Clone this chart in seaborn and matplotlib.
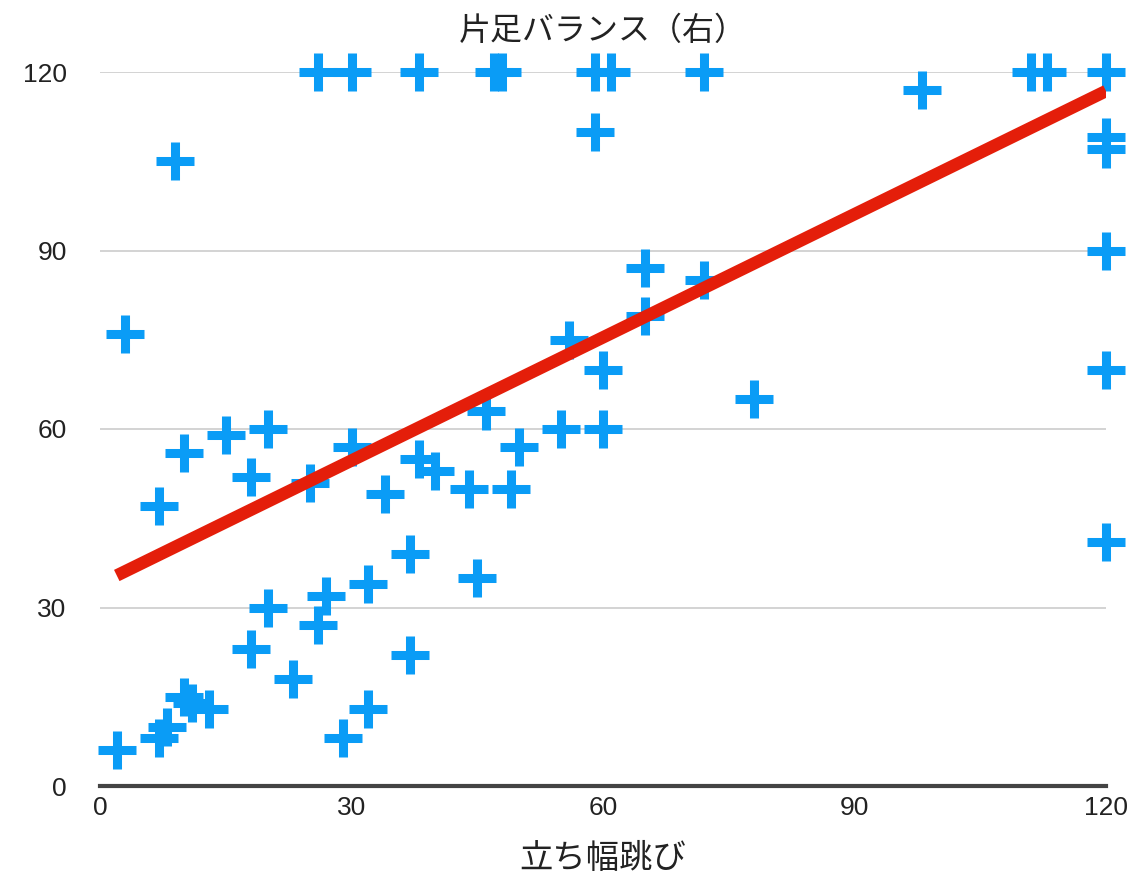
import matplotlib
matplotlib.use("Agg")
import matplotlib.pyplot as plt
import matplotlib.patheffects as pe
import seaborn as sns
import pandas as pd

# ---- data ----
title = "片足バランス（右）"
xlabel = "立ち幅跳び"
ticks = [0, 30, 60, 90, 120]

jump = [26, 30, 38, 47, 48, 59, 61, 72, 111, 113, 120,
        98, 59, 9, 120, 120, 120, 120, 120,
        65, 72, 65, 56, 60, 78, 3, 55, 60, 46, 50,
        49, 44, 45, 30, 38, 40, 34, 25, 18, 15, 20, 10, 7,
        37, 27, 32, 20, 26, 18, 37, 23, 29, 32, 10, 11, 13, 7, 8, 2]
balance = [120, 120, 120, 120, 120, 120, 120, 120, 120, 120, 120,
           117, 110, 105, 109, 107, 90, 70, 41,
           87, 85, 79, 75, 70, 65, 76, 60, 60, 63, 57,
           50, 50, 35, 57, 55, 53, 49, 51, 52, 59, 60, 56, 47,
           39, 32, 34, 30, 27, 23, 22, 18, 8, 13, 15, 14, 13, 8, 10, 6]

# trend line shown in the reference (intercept, slope)
trend_intercept = 34.0
trend_slope = 0.69

df = pd.DataFrame({"jump": jump, "balance": balance})
x_ends = [min(jump), max(jump)]
trend = pd.DataFrame({"jump": x_ends,
                      "balance": [trend_intercept + trend_slope * v for v in x_ends]})

sns.set_theme(style="white")
plt.rcParams["font.family"] = ["Noto Sans CJK JP", "DejaVu Sans"]

fig = plt.figure(figsize=(11.38, 8.82), dpi=100)
ax = fig.add_axes([100 / 1138, 1 - 786 / 882, 1006 / 1138, 714 / 882])

blue = "#0A9CF6"
red = "#E41E0A"

sns.scatterplot(data=df, x="jump", y="balance", ax=ax, marker="+", s=740,
                linewidth=6.5, color=blue, clip_on=False, zorder=3)
sns.lineplot(data=trend, x="jump", y="balance", ax=ax, color=red, lw=9,
             solid_capstyle="butt", zorder=4,
             path_effects=[pe.SimplePatchShadow(offset=(1.5, -1.5), alpha=0.25),
                           pe.Normal()])

ax.set_xlim(0, 120)
ax.set_ylim(0, 120)
ax.set_xticks(ticks)
ax.set_yticks(ticks)
ax.set_xticklabels([str(t) for t in ticks], family="Liberation Sans", fontsize=19, color="#222222")
ax.set_yticklabels([str(t) for t in ticks], family="Liberation Sans", fontsize=19, color="#222222")
ax.tick_params(axis="both", length=0)
ax.tick_params(axis="y", pad=24)
ax.tick_params(axis="x", pad=7)

ax.grid(axis="y", color="#cccccc", lw=1.2, zorder=0)
ax.grid(axis="x", visible=False)
ax.set_axisbelow(True)
for s in ["top", "right", "left"]:
    ax.spines[s].set_visible(False)
ax.spines["bottom"].set_color("#444444")
ax.spines["bottom"].set_linewidth(3)
ax.spines["bottom"].set_zorder(2)

ax.set_title(title, fontsize=23, color="#222222", pad=23)
ax.set_xlabel(xlabel, fontsize=24, color="#222222", labelpad=15)
ax.set_ylabel("")

fig.savefig("out.png", dpi=100)
